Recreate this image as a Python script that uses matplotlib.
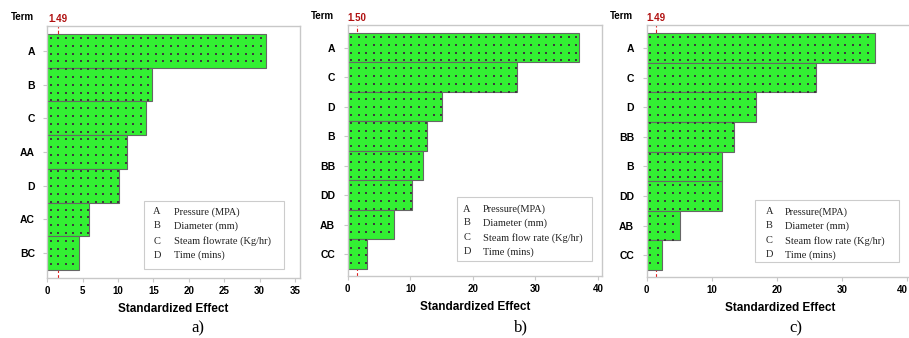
import numpy as np
import matplotlib
matplotlib.use('Agg')
import matplotlib.pyplot as plt
from matplotlib.patches import Rectangle

W, H = 909, 338

# panel a
terms_a = ['A', 'B', 'C', 'AA', 'D', 'AC', 'BC']
effects_a = [30.9, 14.8, 13.9, 11.2, 10.2, 5.9, 4.5]
ref_a = 1.49
legend_a = ['Pressure (MPA)', 'Diameter (mm)', 'Steam flowrate (Kg/hr)', 'Time (mins)']

# panel b
terms_b = ['A', 'C', 'D', 'B', 'BB', 'DD', 'AB', 'CC']
effects_b = [36.9, 27.0, 15.0, 12.7, 12.1, 10.3, 7.4, 3.1]
ref_b = 1.50
legend_b = ['Pressure(MPA)', 'Diameter (mm)', 'Steam flow rate (Kg/hr)', 'Time (mins)']

# panel c
terms_c = ['A', 'C', 'D', 'BB', 'B', 'DD', 'AB', 'CC']
effects_c = [35.0, 25.9, 16.8, 13.4, 11.5, 11.5, 5.1, 2.3]
ref_c = 1.49
legend_c = ['Pressure(MPA)', 'Diameter (mm)', 'Steam flow rate (Kg/hr)', 'Time (mins)']

factor_letters = ['A', 'B', 'C', 'D']

GREEN = '#33f033'
GRID = '#c8c8c8'

fig = plt.figure(figsize=(W / 100, H / 100), dpi=100)
plt.rcParams['font.family'] = ['Liberation Sans', 'DejaVu Sans']


def px_axes(left, right, top, bottom):
    return fig.add_axes([left / W, 1 - bottom / H, (right - left) / W, (bottom - top) / H])


def add_dots(ax, vals, sx=7.5, sy=7.8):
    # square dot pattern on the bars, fixed to a pixel grid
    bb = ax.get_window_extent()
    xs = np.arange(bb.x0 + 3.4, bb.x1, sx)
    ys = np.arange(bb.y1 - 12, bb.y0, -sy)
    gx, gy = np.meshgrid(xs, ys)
    pts = ax.transData.inverted().transform(np.column_stack([gx.ravel(), gy.ravel()]))
    idx = np.rint(pts[:, 1]).astype(int)
    ok = (idx >= 0) & (idx < len(vals))
    widths = np.zeros(len(pts))
    widths[ok] = np.asarray(vals)[idx[ok]]
    ok &= (pts[:, 0] < widths) & (np.abs(pts[:, 1] - idx) < 0.5)
    ax.scatter(pts[ok, 0], pts[ok, 1], s=2.6, marker='s', c='#3c3c3c',
               linewidths=0, zorder=4)


def pareto(ax, terms, vals, ref, xmax, step, pad_top, pad_bot):
    y = np.arange(len(terms))
    ax.barh(y, vals, height=1.0, color=GREEN, edgecolor='#666666',
            linewidth=0.8, zorder=2)
    ax.set_xlim(0, xmax)
    ax.set_ylim(len(terms) - 0.5 + pad_bot, -0.5 - pad_top)
    ax.set_yticks(y)
    ax.set_yticklabels(terms, fontweight='bold', fontsize=7.5)
    ax.set_xticks(np.arange(0, xmax, step))
    ax.tick_params(axis='x', labelsize=7, length=3, width=0.8, color=GRID, pad=3)
    ax.tick_params(axis='y', length=3, width=0.8, color=GRID, pad=6)
    for lab in ax.get_xticklabels():
        lab.set_fontweight('bold')
    for s in ax.spines.values():
        s.set_color(GRID)
        s.set_linewidth(1.0)
    ax.axvline(ref, color='#e02020', ls=(0, (3, 2)), lw=0.8, zorder=1)
    ax.annotate(f'{ref:.2f}', xy=(ref, 1), xycoords=('data', 'axes fraction'),
                xytext=(0, 7), textcoords='offset pixels', ha='center', va='center',
                fontsize=7, fontweight='bold', color='#b01010', annotation_clip=False)
    ax.annotate('Term', xy=(0, 1), xycoords='axes fraction', xytext=(-25, 9),
                textcoords='offset pixels', ha='center', va='center',
                fontsize=7, fontweight='bold', annotation_clip=False)
    ax.set_xlabel('Standardized Effect', fontsize=8.5, fontweight='bold', labelpad=5)
    add_dots(ax, vals)


def legend_box(x0, x1, y0, y1, lx, tx, rows, texts):
    fig.add_artist(Rectangle((x0 / W, 1 - y1 / H), (x1 - x0) / W, (y1 - y0) / H,
                             transform=fig.transFigure, facecolor='white',
                             edgecolor='#cccccc', lw=0.8))
    for letter, txt, yy in zip(factor_letters, texts, rows):
        fig.text(lx / W, 1 - yy / H, letter, ha='center', va='center',
                 fontsize=7.5, family='Liberation Serif', color='#222222')
        fig.text(tx / W, 1 - yy / H, txt, ha='left', va='center',
                 fontsize=7.5, family='Liberation Serif', color='#222222')


ax_a = px_axes(47.3, 300, 26, 278)
pareto(ax_a, terms_a, effects_a, ref_a, 35.7, 5, 0.24, 0.24)
ax_b = px_axes(347.7, 601.7, 25, 276)
pareto(ax_b, terms_b, effects_b, ref_b, 40.6, 10, 0.27, 0.24)
ax_c = px_axes(646.7, 914, 25, 277)
pareto(ax_c, terms_c, effects_c, ref_c, 41, 10, 0.28, 0.24)
# last tick label of c sits on the figure edge; keep it inside
ax_c.get_xticklabels()[-1].set_horizontalalignment('right')

legend_box(144, 284, 201, 269, 157, 174, [212, 226, 241, 255], legend_a)
legend_box(457, 592, 197, 261, 467, 483, [209, 222.7, 237.7, 252], legend_b)
legend_box(755, 899, 200, 262, 769.5, 785, [211.7, 225.7, 240.7, 254.7], legend_c)

for lab, xx, yy in [('a)', 198, 328), ('b)', 521, 327), ('c)', 796, 328)]:
    fig.text(xx / W, 1 - yy / H, lab, ha='center', va='center',
             fontsize=12, family='Liberation Serif')

fig.savefig('out.png', dpi=100)
